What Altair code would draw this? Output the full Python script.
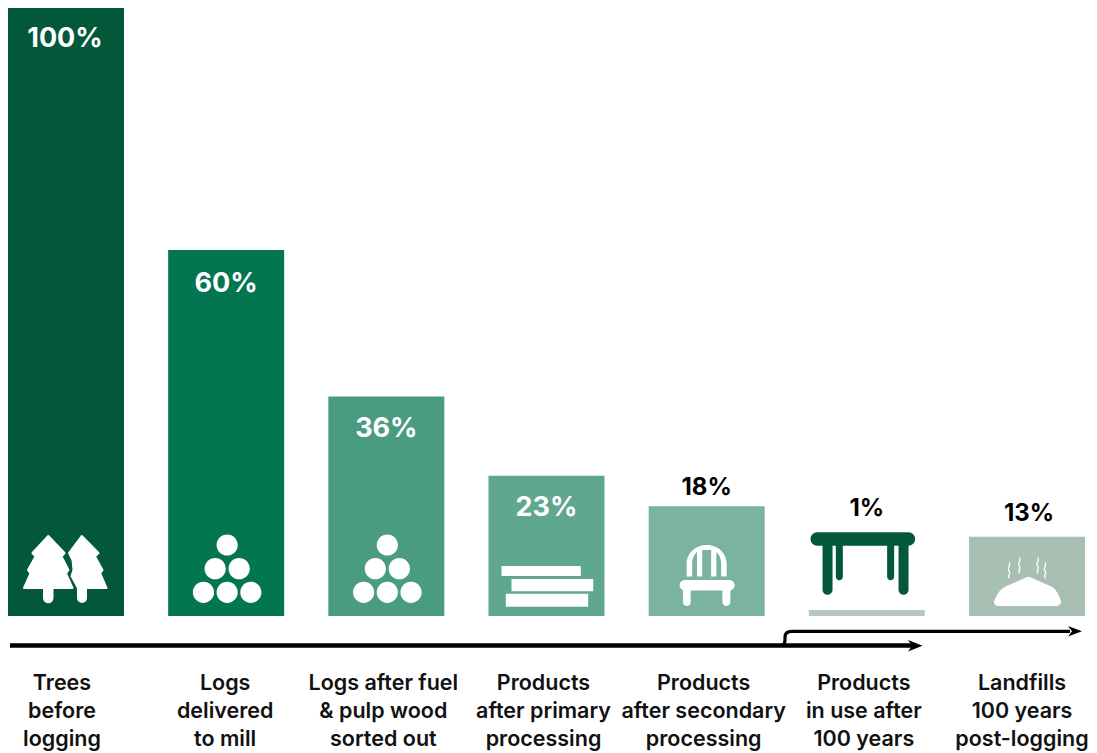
import altair as alt
import pandas as pd

categories = ["Trees before logging", "Logs delivered to mill", "Logs after fuel & pulp wood sorted out",
              "Products after primary processing", "Products after secondary processing",
              "Products in use after 100 years", "Landfills 100 years post-logging"]
values = [100, 60, 36, 23, 18, 1, 13]
bar_colors = ["#03583a", "#047551", "#499c80", "#60a78f", "#7ab39e", "#b5c8c0", "#a8bfb4"]
percent_labels = ["100%", "60%", "36%", "23%", "18%", "1%", "13%"]
axis_labels = ["Trees\nbefore\nlogging", "Logs\ndelivered\nto mill", "Logs after fuel\n& pulp wood\nsorted out",
               "Products\nafter primary\nprocessing", "Products\nafter secondary\nprocessing",
               "Products\nin use after\n100 years", "Landfills\n100 years\npost-logging"]

FONT = "Inter"
PX = 6.1  # pixels per percentage point
df = pd.DataFrame({"cat": categories, "value": values, "color": bar_colors,
                   "pct": percent_labels, "axis": axis_labels})

x = alt.X("cat:N", sort=categories, axis=None,
          scale=alt.Scale(paddingInner=0.2758, paddingOuter=0, range=[0, 1077]))
y_scale = alt.Scale(domain=[-129 / PX, 608 / PX], range=[737, 0], nice=False, zero=False)
y = alt.Y("value:Q", axis=None, scale=y_scale)


def circle(cx, cy, r):
    return f"M{cx-r},{cy}a{r},{r} 0 1,0 {2*r},0a{r},{r} 0 1,0 {-2*r},0Z"


def rbar(x0, y0, x1, y1):
    r = min(x1 - x0, y1 - y0) / 2
    if x1 - x0 > y1 - y0:
        return (f"M{x0+r},{y0}L{x1-r},{y0}A{r},{r} 0 0,1 {x1-r},{y1}"
                f"L{x0+r},{y1}A{r},{r} 0 0,1 {x0+r},{y0}Z")
    return (f"M{x0},{y0+r}A{r},{r} 0 0,1 {x1},{y0+r}L{x1},{y1-r}"
            f"A{r},{r} 0 0,1 {x0},{y1-r}Z")


def rect(x0, y0, x1, y1):
    return f"M{x0},{y0}L{x1},{y0}L{x1},{y1}L{x0},{y1}Z"


TREES = ("M-17.7,-80L-33.5,-63L-30.5,-59.5L-38,-46L-35.5,-42.5L-42,-28L-22,-28L-22,-18A4.25,4.25 0 0,0 -13.5,-18L-13.5,-28L6.5,-28"
         "L0,-42.5L2.5,-46L-4.5,-59.5L-1.5,-63Z"
         "M15.7,-80L3,-63L6.5,-56L7.5,-46L5.5,-40L12,-28L12,-18A4,4 0 0,0 20,-18L20,-28L40.5,-28L34,-43L36.5,-46L29,-59.5L32.5,-63Z")
LOGS = "".join(circle(cx, cy, 10.6) for cx, cy in
               [(1, -71), (-11, -47.3), (13, -47.3), (-22.7, -23.7), (1, -23.7), (24.7, -23.7)])
BOARDS = rect(-45, -50, 34.3, -40) + rect(-35, -37, 46.7, -24.7) + rect(-40.7, -22.3, 41.7, -9.3)
CHAIR = ("M-20,-39.5L-20,-52C-20,-64 -10,-71 0,-71C10,-71 20,-64 20,-52L20,-39.5L14.5,-39.5L14.5,-52"
         "C14.5,-58 12,-62 9.7,-64L9.7,-39.5L4.5,-39.5L4.5,-66L-4.5,-66L-4.5,-39.5L-9.7,-39.5L-9.7,-64"
         "C-12,-62 -14.5,-58 -14.5,-52L-14.5,-39.5Z"
         + rbar(-27, -36, 28, -25.5)
         + rbar(-23.7, -30, -16, -10) + rbar(15.7, -30, 23.7, -10))
TABLE = (rbar(-56.3, -83.7, 48.3, -70.3) + rbar(-44.3, -75, -34.3, -21.3) + rbar(-31, -75, -24, -35.7)
         + rbar(20.3, -75, 27.3, -35.7) + rbar(31.7, -75, 41.7, -21.3))
MOUND = ("M-28,-10C-33,-10 -34,-14 -32,-17C-29,-24 -26,-27 -22,-29.3L-1,-38.5Q1.3,-39.8 4,-38.5L24.7,-29.3"
         "C29,-27 32,-21 34,-15C34.5,-12 32,-10 29,-10Z")
STEAM = ("M-18,-53.3C-15.5,-50 -20.5,-48 -18,-45C-15.5,-42 -20.5,-40 -17.5,-37.7"
         "M-7.7,-58.7C-5.2,-55 -10.2,-53 -7.7,-50C-5.2,-47 -10.2,-45 -7.2,-42.7"
         "M10.7,-58.7C13.2,-55 8.2,-53 10.7,-50C13.2,-47 8.2,-45 11.2,-42.7"
         "M18,-53.3C20.5,-50 15.5,-48 18,-45C20.5,-42 15.5,-40 18.5,-37.7")
ARROW_LINE = "M2,29.6L905,29.6"
ARROW_UP = "M772,29.6Q777,29.6 777,24L777,21Q777,15.3 784,15.3L1062,15.3"
ARROW_HEADS = "M914.5,29.7L900,24L904,29.7L900,35.4ZM1074,15.3L1060,10L1064,15.3L1060,20.6Z"

base = alt.Chart(df)
bars = base.mark_bar().encode(x=x, y=y, color=alt.Color("color:N", scale=None))

layers = [bars]
ZERO = alt.Y("zero:Q", axis=None, scale=y_scale)


def icon(cat, shape, fill="white", stroke=None, width=0):
    kw = dict(shape=shape, size=4, opacity=1)
    if stroke:
        kw.update(stroke=stroke, strokeWidth=width, strokeJoin="round")
    else:
        kw.update(strokeWidth=0)
    if fill:
        kw.update(filled=True, fill=fill)
    else:
        kw.update(filled=False)
    return (base.transform_filter(alt.datum.cat == cat)
            .transform_calculate(zero="0").mark_point(**kw).encode(x=x, y=ZERO))


layers += [
    icon(categories[0], TREES, stroke="white", width=2),
    icon(categories[1], LOGS),
    icon(categories[2], LOGS),
    icon(categories[3], BOARDS),
    icon(categories[4], CHAIR),
    icon(categories[5], TABLE, fill="#03583a"),
    icon(categories[6], MOUND),
    icon(categories[6], STEAM, fill=None, stroke="white", width=1.3),
]

# percent labels
for i, (color, size, dy, dx) in enumerate([
    ("white", 27, 33, -1), ("white", 27, 34, 0), ("white", 27, 33, 0), ("white", 27, 32, 0),
    ("black", 24, -18, 0), ("black", 24, -101, 0), ("black", 24, -23, 2)]):
    layers.append(base.transform_filter(alt.datum.cat == categories[i])
                  .mark_text(font=FONT, fontWeight=700, fontSize=size, color=color, dy=dy, dx=dx)
                  .encode(x=x, y=y, text="pct:N"))

# category labels
for i, dx in enumerate([-4, -1, -3, -3, -3, -3, -5]):
    layers.append(base.transform_filter(alt.datum.cat == categories[i])
                  .transform_calculate(zero=str(-68 / PX))
                  .mark_text(font=FONT, fontWeight=600, fontSize=21.5, color="#111111", lineBreak="\n",
                             lineHeight=28, dx=dx, baseline="middle")
                  .encode(x=x, y=ZERO, text="axis:N"))

# process arrows
anchor = base.transform_filter(alt.datum.cat == categories[0]).transform_calculate(zero="0")
layers += [
    anchor.mark_point(shape=ARROW_LINE, size=4, filled=False, opacity=1, stroke="black", strokeWidth=4.5)
          .encode(x=alt.value(0), y=ZERO),
    anchor.mark_point(shape=ARROW_UP, size=4, filled=False, opacity=1, stroke="black", strokeWidth=3.2)
          .encode(x=alt.value(0), y=ZERO),
    anchor.mark_point(shape=ARROW_HEADS, size=4, filled=True, opacity=1, fill="black", strokeWidth=0)
          .encode(x=alt.value(0), y=ZERO),
]

chart = (alt.layer(*layers)
         .properties(width=1077, height=737, padding={"left": 0, "top": 0, "right": 4, "bottom": 8},
                     autosize=alt.AutoSizeParams(type="none"))
         .configure_view(stroke=None))
chart.save("out.html", embed_options={"renderer": "svg", "actions": False})
